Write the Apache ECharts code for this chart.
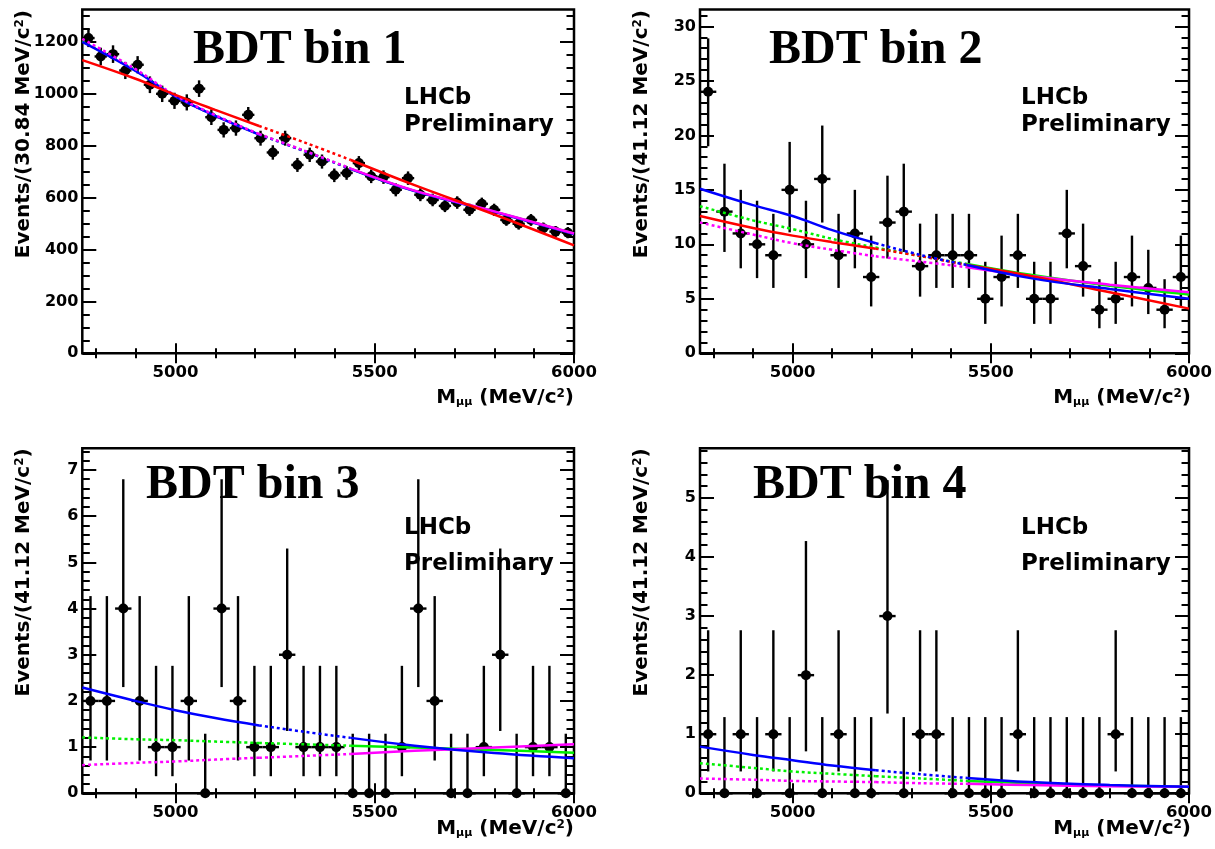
<!DOCTYPE html>
<html><head><meta charset="utf-8">
<script src="https://cdn.jsdelivr.net/npm/echarts@6/dist/echarts.min.js"></script>
<style>html,body{margin:0;padding:0;background:#fff}#c{width:1215px;height:849px}</style>
</head><body><div id="c"></div>
<script>
// ---------------- data ----------------
const XMIN = 4766.4, XMAX = 6000;
const panelTitles = ['BDT bin 1', 'BDT bin 2', 'BDT bin 3', 'BDT bin 4'];
const yAxisTitles = ['Events/(30.84 MeV/c{sup|2})', 'Events/(41.12 MeV/c{sup|2})', 'Events/(41.12 MeV/c{sup|2})', 'Events/(41.12 MeV/c{sup|2})'];
const xAxisTitle = 'M{sub|μμ} (MeV/c{sup|2})';
const binWidths = [30.84, 41.12, 41.12, 41.12];

const counts1 = [1215,1144,1153,1090,1112,1035,1000,973,967,1020,910,861,868,919,829,774,829,726,765,739,686,695,733,682,679,630,675,611,591,568,581,553,576,553,514,499,514,482,469,465];
const counts2 = [24,13,11,10,9,15,10,16,9,11,7,12,13,8,9,9,9,5,7,9,5,5,11,8,4,5,7,6,4,7];
const counts3 = [2,2,4,2,1,1,2,0,4,2,1,1,3,1,1,1,0,0,0,1,4,2,0,0,1,3,0,1,1,0];
const counts4 = [1,0,1,0,1,0,2,0,1,0,0,3,0,1,1,0,0,0,0,1,0,0,0,0,0,1,0,0,0,0];

const countInterval = {
  0:[0,1.29], 1:[0.37,2.76], 2:[0.71,4.27], 3:[1.35,5.3], 4:[2.3,6.8], 5:[2.7,8.4],
  6:[3.6,9.5], 7:[4.3,10.8], 8:[5.2,11.9], 9:[6.0,12.8], 10:[6.9,14.0], 11:[7.8,15.0],
  12:[8.7,16.3], 13:[9.3,17.4], 15:[11.1,19.4], 16:[12.0,20.9], 24:[19.0,28.9]
};

// fit curves sampled at these masses
const curveX = [4766.4, 4900, 5000, 5100, 5210, 5325, 5440, 5600, 5800, 6000];
const p1Blue    = [1200,1088,990,915,843,778,710,625,545,460];
const p1Green   = [1203,1090,991,916,844,779,711,626,546,461];
const p1Magenta = [1212,1095,994,918,845,780,712,627,547,462];
const p1Red     = [1130,1058,996,938,876,812,745,648,535,416];
const p2Blue    = [15.1,13.6,12.6,11.3,10.1,9.0,8.1,6.9,5.9,5.0];
const p2Green   = [13.5,12.2,11.4,10.5,9.7,8.9,8.2,7.2,6.2,5.4];
const p2Magenta = [12.0,10.9,10.1,9.5,8.9,8.4,7.9,7.1,6.3,5.6];
const p2Red     = [12.6,11.5,10.8,10.2,9.6,8.9,8.1,7.1,5.6,4.1];
const p3Blue    = [2.29,2.0,1.80,1.63,1.47,1.33,1.20,1.03,0.87,0.76];
const p3Green   = [1.21,1.17,1.15,1.12,1.09,1.06,1.03,0.99,0.94,0.88];
const p3Magenta = [0.61,0.66,0.69,0.73,0.77,0.81,0.85,0.92,0.99,1.06];
const p4Blue    = [0.79,0.65,0.56,0.47,0.39,0.32,0.26,0.19,0.14,0.11];
const p4Green   = [0.51,0.43,0.37,0.33,0.29,0.25,0.21,0.17,0.13,0.11];
const p4Magenta = [0.25,0.23,0.21,0.20,0.19,0.17,0.16,0.14,0.12,0.11];

// axes
const xLabelTicks = [5000, 5500, 6000];
const yLabelTicks = [[0,200,400,600,800,1000,1200],[0,5,10,15,20,25,30],[0,1,2,3,4,5,6,7],[0,1,2,3,4,5]];
const yMax = [1325, 31.55, 7.47, 5.84];
const yMinorStep = [50, 1, 0.2, 0.2];
const xMinorStep = 100;

// ---------------- layout ----------------
const grids = [
  {left: 82.3, top: 9.5, width: 491.7, height: 343.8},
  {left: 700, top: 9.5, width: 491.5, height: 343.8},
  {left: 82.3, top: 448.3, width: 491.7, height: 345},
  {left: 700, top: 448.3, width: 491.5, height: 345}
];
const FONT = '"DejaVu Sans", "Liberation Sans", sans-serif';

function range(a, b, step) {
  const out = [];
  for (let k = 0; ; k++) { const v = +(a + k * step).toFixed(6); if (v > b + 1e-9) break; out.push(v); }
  return out;
}
const xMinorTicks = range(4800, 6000, xMinorStep);
const plainNum = v => String(v);

const xAxes = [], yAxes = [];
const tickStyle = {color: '#000', width: 2};
grids.forEach((g, gi) => {
  const baseX = {gridIndex: gi, type: 'value', min: XMIN, max: XMAX, axisLine: {show: false}, splitLine: {show: false}, axisLabel: {show: false}};
  xAxes.push(Object.assign({}, baseX, {position: 'bottom',
    axisTick: {show: true, inside: true, length: 10, lineStyle: tickStyle, customValues: xLabelTicks},
    axisLabel: {show: true, customValues: xLabelTicks, formatter: plainNum, margin: 11, color: '#000', fontFamily: FONT, fontWeight: 'bold', fontSize: 16.5}}));
  xAxes.push(Object.assign({}, baseX, {position: 'bottom', axisTick: {show: true, inside: true, length: 5, lineStyle: tickStyle, customValues: xMinorTicks}}));
  xAxes.push(Object.assign({}, baseX, {position: 'top', axisTick: {show: true, inside: true, length: 10, lineStyle: tickStyle, customValues: xLabelTicks}}));
  xAxes.push(Object.assign({}, baseX, {position: 'top', axisTick: {show: true, inside: true, length: 5, lineStyle: tickStyle, customValues: xMinorTicks}}));

  const yMinor = range(0, yMax[gi], yMinorStep[gi]);
  const baseY = {gridIndex: gi, type: 'value', min: 0, max: yMax[gi], axisLine: {show: false}, splitLine: {show: false}, axisLabel: {show: false}};
  yAxes.push(Object.assign({}, baseY, {position: 'left',
    axisTick: {show: true, inside: true, length: 14, lineStyle: tickStyle, customValues: yLabelTicks[gi]},
    axisLabel: {show: true, customValues: yLabelTicks[gi], formatter: plainNum, margin: 4, color: '#000', fontFamily: FONT, fontWeight: 'bold', fontSize: 16}}));
  yAxes.push(Object.assign({}, baseY, {position: 'left', axisTick: {show: true, inside: true, length: 7.5, lineStyle: tickStyle, customValues: yMinor}}));
  yAxes.push(Object.assign({}, baseY, {position: 'right', axisTick: {show: true, inside: true, length: 14, lineStyle: tickStyle, customValues: yLabelTicks[gi]}}));
  yAxes.push(Object.assign({}, baseY, {position: 'right', axisTick: {show: true, inside: true, length: 7.5, lineStyle: tickStyle, customValues: yMinor}}));
});

// ---------------- series ----------------
function histData(counts, bw, useTable) {
  return counts.map((n, i) => {
    const x = XMIN + (i + 0.5) * bw;
    let lo, hi;
    if (useTable) { lo = countInterval[n][0]; hi = countInterval[n][1]; }
    else { lo = n - Math.sqrt(n); hi = n + Math.sqrt(n); }
    return [x, n, lo, hi, bw];
  });
}
function renderPoint(params, api) {
  const x = api.value(0), y = api.value(1), lo = api.value(2), hi = api.value(3), hw = api.value(4) / 2;
  const c = api.coord([x, y]);
  const pLo = api.coord([x, lo]), pHi = api.coord([x, hi]);
  const pL = api.coord([x - hw, y]), pR = api.coord([x + hw, y]);
  return {type: 'group', children: [
    {type: 'line', shape: {x1: c[0], y1: pLo[1], x2: c[0], y2: pHi[1]}, style: {stroke: '#000', lineWidth: 2.4}},
    {type: 'line', shape: {x1: pL[0], y1: c[1], x2: pR[0], y2: c[1]}, style: {stroke: '#000', lineWidth: 2.4}},
    {type: 'circle', shape: {cx: c[0], cy: c[1], r: 5}, style: {fill: '#000'}}
  ]};
}
const series = [];
const allCounts = [counts1, counts2, counts3, counts4];
allCounts.forEach((cts, gi) => {
  series.push({type: 'custom', xAxisIndex: gi * 4, yAxisIndex: gi * 4, renderItem: renderPoint, clip: false,
    encode: {x: 0, y: 1}, data: histData(cts, binWidths[gi], gi > 0), z: 3, silent: true});
});

const COLORS = {blue: '#0000ff', green: '#00f000', magenta: '#ff00ff', red: '#ff0000'};
const DOT = [3, 3];
// segment styles: [left sideband, signal window, right sideband]
const segStyle = {blue: ['solid', DOT, 'solid'], red: ['solid', DOT, 'solid'], green: [DOT, DOT, 'solid'], magenta: [DOT, DOT, 'solid']};
const segIdx = [[0, 4], [4, 6], [6, 9]];
const panelCurves = [
  [['green', p1Green], ['blue', p1Blue], ['magenta', p1Magenta], ['red', p1Red]],
  [['green', p2Green], ['magenta', p2Magenta], ['red', p2Red], ['blue', p2Blue]],
  [['green', p3Green], ['magenta', p3Magenta], ['blue', p3Blue]],
  [['green', p4Green], ['magenta', p4Magenta], ['blue', p4Blue]]
];
panelCurves.forEach((curves, gi) => {
  curves.forEach(([name, vals]) => {
    segIdx.forEach(([a, b], s) => {
      const d = [];
      for (let k = a; k <= b; k++) d.push([curveX[k], vals[k]]);
      series.push({type: 'line', xAxisIndex: gi * 4, yAxisIndex: gi * 4, data: d, smooth: 0.4, showSymbol: false, symbol: 'none',
        lineStyle: {color: COLORS[name], width: 2.5, type: segStyle[name][s]}, z: 4, silent: true});
    });
  });
});

// ---------------- texts ----------------
const graphic = [];
const bdtPos = [[193, 50.5], [769, 50.5], [146, 486], [753, 486]];
const lhcbPos = [[404, 98.5, 26.5], [1021, 98.5, 26.5], [404, 528, 36], [1021, 528, 36]];
const yTitlePos = [[24, 10], [642, 10], [24, 448.3], [642, 448.3]];
const xTitlePos = [[574, 398], [1191, 398], [574, 829], [1191, 829]];
const richSS = {
  sup: {fontSize: 12, fontWeight: 'bold', fontFamily: FONT, verticalAlign: 'top', fill: '#000'},
  sub: {fontSize: 11, fontWeight: 'bold', fontFamily: FONT, verticalAlign: 'bottom', fill: '#000'}
};
for (let gi = 0; gi < 4; gi++) {
  graphic.push({type: 'text', x: bdtPos[gi][0], y: bdtPos[gi][1], z: 10, silent: true,
    style: {text: panelTitles[gi], fill: '#000', font: 'bold 48px "Liberation Serif", "Times New Roman", serif', align: 'left', verticalAlign: 'middle'}});
  graphic.push({type: 'text', x: lhcbPos[gi][0], y: lhcbPos[gi][1], z: 10, silent: true,
    style: {text: 'LHCb', fill: '#000', font: 'bold 23px ' + FONT, align: 'left', verticalAlign: 'middle'}});
  graphic.push({type: 'text', x: lhcbPos[gi][0], y: lhcbPos[gi][1] + lhcbPos[gi][2], z: 10, silent: true,
    style: {text: 'Preliminary', fill: '#000', font: 'bold 23px ' + FONT, align: 'left', verticalAlign: 'middle'}});
  graphic.push({type: 'text', x: yTitlePos[gi][0], y: yTitlePos[gi][1], rotation: Math.PI / 2, z: 10, silent: true,
    style: {text: yAxisTitles[gi], fill: '#000', font: 'bold 20px ' + FONT, fontSize: 20, fontWeight: 'bold', fontFamily: FONT,
      align: 'right', verticalAlign: 'middle', rich: richSS}});
  graphic.push({type: 'text', x: xTitlePos[gi][0], y: xTitlePos[gi][1], z: 10, silent: true,
    style: {text: xAxisTitle, fill: '#000', font: 'bold 20px ' + FONT, fontSize: 20, fontWeight: 'bold', fontFamily: FONT,
      align: 'right', verticalAlign: 'middle', rich: richSS}});
}

const option = {
  animation: false,
  backgroundColor: '#fff',
  grid: grids.map(g => Object.assign({show: true, borderColor: '#000', borderWidth: 2.5, backgroundColor: 'transparent', containLabel: false}, g)),
  xAxis: xAxes,
  yAxis: yAxes,
  series: series,
  graphic: graphic
};
const chart = echarts.init(document.getElementById('c'), null, {renderer: 'canvas'});
chart.setOption(option);
</script></body></html>
